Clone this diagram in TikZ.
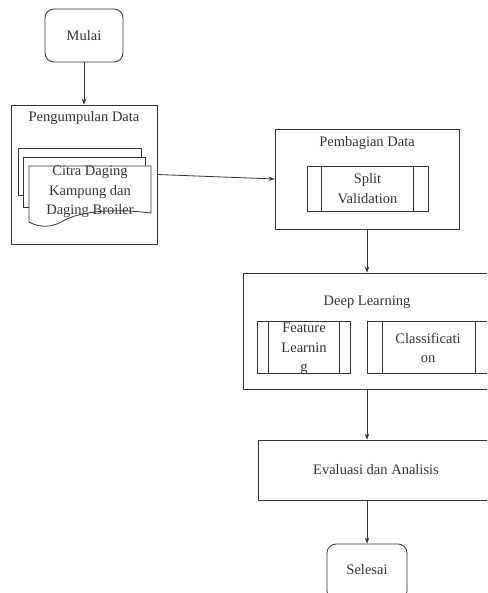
\documentclass[tikz,border=0pt]{standalone}
\usepackage{fontspec}
\setmainfont{Liberation Serif}
\usetikzlibrary{arrows.meta}
\definecolor{ink}{HTML}{333333}
\tikzset{
  box/.style={draw=ink, line width=0.8pt, fill=white, inner sep=0pt, text=ink, align=center},
  rbox/.style={box, rounded corners=9pt},
  lbl/.style={inner sep=0pt, text=ink, align=center, font=\fontsize{14.5}{19.5}\selectfont},
  conn/.style={draw=ink, line width=0.8pt, -{Stealth[length=6pt,width=4.5pt]}},
  sheet/.style={draw=ink, line width=0.8pt, fill=white}
}
\begin{document}
\begin{tikzpicture}[x=1pt,y=-1pt]
\useasboundingbox (0,0) rectangle (487,593);
\clip (0,0) rectangle (487,593);
\fill[white] (0,0) rectangle (487,593);

% Mulai
\node[rbox, minimum width=78pt, minimum height=53pt, font=\fontsize{14.5}{19.5}\selectfont] (mulai) at (84,35.5) {Mulai};

% Pengumpulan Data
\node[box, minimum width=146pt, minimum height=139pt] (peng) at (84,174.5) {};
\node[lbl] (pengT) at (84,118) {Pengumpulan Data};
\draw[sheet] (18,148) rectangle (141,195);
\draw[sheet] (23,157) rectangle (145,207);
\draw[sheet] (29,166) -- (151,166) -- (151,213)
  .. controls (110,208) and (80,212) .. (65,220)
  .. controls (52,228) and (40,228) .. (29,222) -- cycle;
\node[lbl] (citra) at (90,192) {Citra Daging\\Kampung dan\\Daging Broiler};

% Pembagian Data
\node[box, minimum width=184pt, minimum height=100pt] (pemb) at (367,179) {};
\node[lbl] (pembT) at (367,143) {Pembagian Data};
\node[box, minimum width=121pt, minimum height=45pt, font=\fontsize{14.5}{19.5}\selectfont] (split) at (367.5,188.5) {Split\\Validation};
\draw[ink, line width=0.8pt] ([xshift=15pt]split.north west) -- ([xshift=15pt]split.south west);
\draw[ink, line width=0.8pt] ([xshift=-15pt]split.north east) -- ([xshift=-15pt]split.south east);

% Deep Learning
\node[box, minimum width=252pt, minimum height=116pt] (deep) at (369,331) {};
\node[lbl] (deepT) at (367,302) {Deep Learning};
\node[box, minimum width=93pt, minimum height=52pt] (feat) at (303.5,347) {};
\node[lbl] (featT) at (304,349) {Feature\\Learnin\\g};
\draw[ink, line width=0.8pt] ([xshift=12pt]feat.north west) -- ([xshift=12pt]feat.south west);
\draw[ink, line width=0.8pt] ([xshift=-11pt]feat.north east) -- ([xshift=-11pt]feat.south east);
\node[box, minimum width=124pt, minimum height=52pt] (clas) at (429,347) {};
\node[lbl] (clasT) at (428,348) {Classificati\\on};
\draw[ink, line width=0.8pt] ([xshift=16pt]clas.north west) -- ([xshift=16pt]clas.south west);
\draw[ink, line width=0.8pt] ([xshift=-16pt]clas.north east) -- ([xshift=-16pt]clas.south east);

% Evaluasi
\node[box, minimum width=236pt, minimum height=60pt, font=\fontsize{14.5}{19.5}\selectfont] (eval) at (376,470) {Evaluasi dan Analisis};

% Selesai
\node[rbox, minimum width=80pt, minimum height=56pt, font=\fontsize{14.5}{19.5}\selectfont, text depth=0pt] (sel) at (367,572) {\raisebox{6pt}{Selesai}};

% connectors
\draw[conn] (mulai.south) -- (peng.north);
\draw[conn] (peng.east) -- (pemb.west);
\draw[conn] (pemb.south) -- (pemb.south |- deep.north);
\draw[conn] (pemb.south |- deep.south) -- (pemb.south |- eval.north);
\draw[conn] (pemb.south |- eval.south) -- (sel.north);
\end{tikzpicture}
\end{document}
